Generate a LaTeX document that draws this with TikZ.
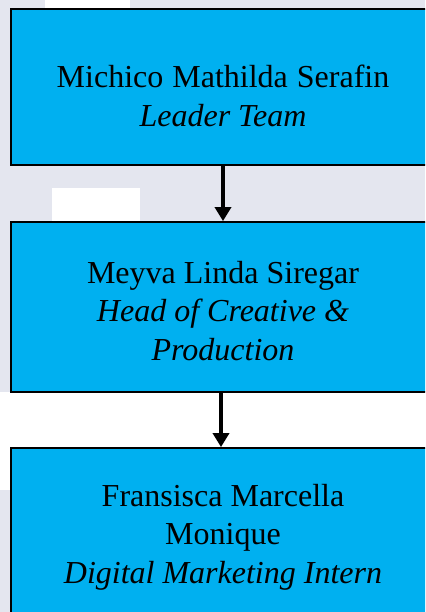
\documentclass[tikz,border=0pt]{standalone}
\usepackage{fontspec}
\setmainfont{Liberation Serif}
\usetikzlibrary{arrows.meta}

\definecolor{pagegray}{RGB}{228,230,239}
\definecolor{boxcyan}{RGB}{0,176,240}

\tikzset{
  orgbox/.style={draw=black, line width=1.8pt, fill=boxcyan, rectangle, minimum width=424pt, inner sep=0pt},
  orgtext/.style={align=center, inner sep=0pt, font=\fontsize{32}{38.5}\selectfont},
  orgarrow/.style={line width=3.4pt, -{Triangle[length=14pt,width=16pt]}}
}

\begin{document}
\begin{tikzpicture}[x=1pt,y=1pt,yscale=-1,xscale=1]
\useasboundingbox (0,0) rectangle (425,612);
\clip (0,0) rectangle (425,612);

%Shape: Rectangle [background]
\fill [pagegray] (0,0) rectangle (425,612);
\fill [white] (0,392) rectangle (425,490);
\fill [white] (45,0) rectangle (130,8);
\fill [white] (52,188) rectangle (140,222);

%Shape: Rectangle [boxes]
\node [orgbox, minimum height=156pt] (lead) at (223,87) {};
\node [orgbox, minimum height=170pt] (head) at (223,307) {};
\node [orgbox, minimum height=192pt] (intern) at (223,544) {};

% Text Node
\node [orgtext] (leadtext) at (223,96) {Michico\hspace{9pt}Mathilda\hspace{9pt}Serafin\\\textit{Leader Team}};
% Text Node
\node [orgtext] (headtext) at (223,311) {Meyva Linda Siregar\\\textit{Head of Creative \&}\\\textit{Production}};
% Text Node
\node [orgtext] (interntext) at (223,537) {Fransisca Marcella\\Monique\\\textit{Digital Marketing Intern}};

%Straight Lines [arrows]
\draw [orgarrow] (lead) -- (head);
\draw [orgarrow] ([xshift=-2pt]head.south) -- ([xshift=-2pt]intern.north);

\end{tikzpicture}
\end{document}
